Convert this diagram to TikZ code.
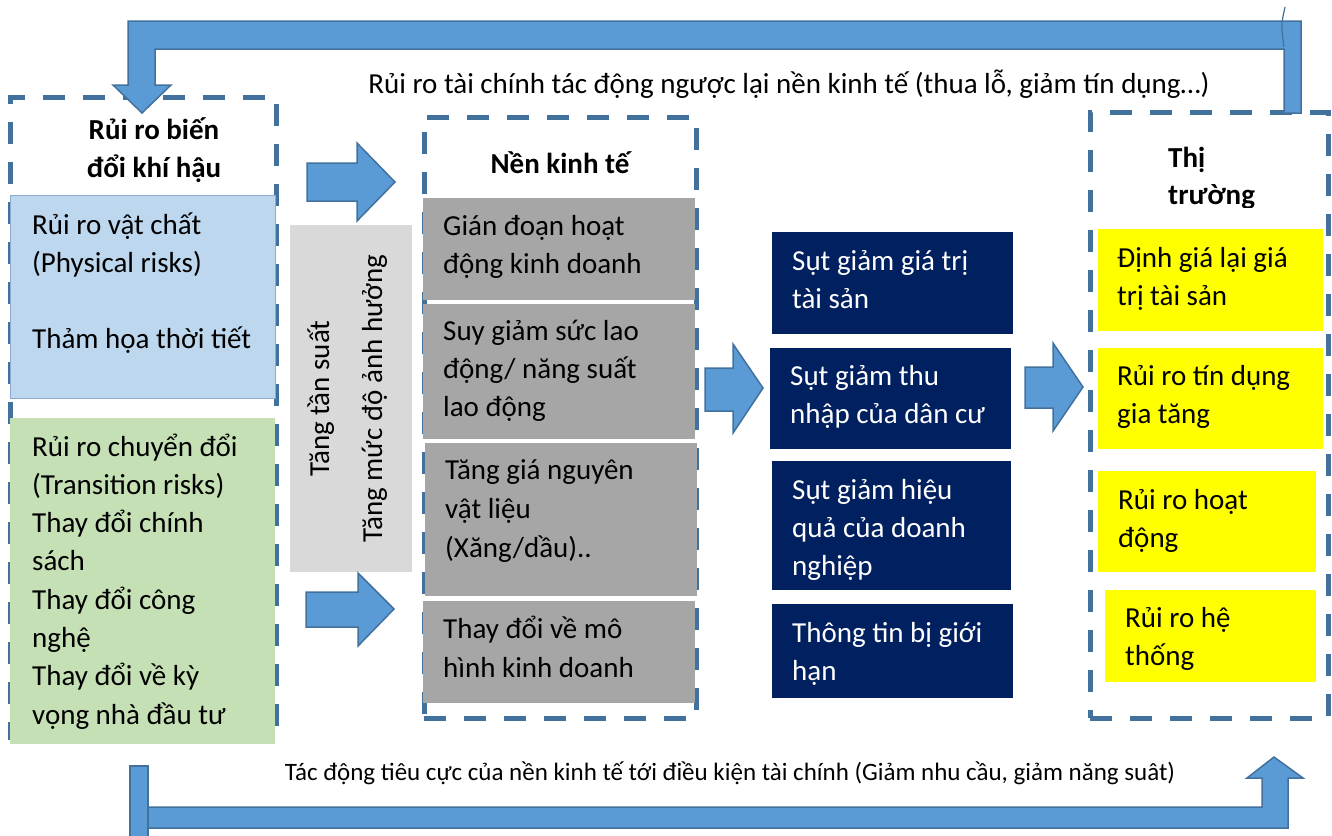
\documentclass[tikz,border=0pt]{standalone}
\usepackage{fontspec}
\setmainfont{Carlito}
\usetikzlibrary{fit}
\definecolor{arrowblue}{RGB}{91,155,213}
\definecolor{frameblue}{RGB}{65,113,156}
\definecolor{physblue}{RGB}{189,215,238}
\definecolor{physedge}{RGB}{143,170,210}
\definecolor{transgreen}{RGB}{197,224,180}
\definecolor{lightgrey}{RGB}{217,217,217}
\definecolor{midgrey}{RGB}{166,166,166}
\definecolor{navy}{RGB}{0,32,96}
\definecolor{marketyellow}{RGB}{255,255,0}
% multi-line text whose reference point is the first baseline
\newcommand\leftlines[1]{\begin{tabular}[t]{@{}l@{}}#1\end{tabular}}
\newcommand\centrelines[1]{\begin{tabular}[t]{@{}c@{}}#1\end{tabular}}
\begin{document}
\begin{tikzpicture}[x=1pt,y=-1pt,
  frame/.style={draw=frameblue, line width=5pt, dash pattern=on 22pt off 18pt, inner sep=0pt},
  panel/.style={inner sep=0pt, draw=none},
  blockarrow/.style={fill=arrowblue, draw=frameblue, line width=1.5pt, line join=miter},
  txt/.style={anchor=base west, inner sep=0pt, font=\fontsize{29}{38}\selectfont},
  title/.style={txt, font=\fontsize{29}{37.5}\selectfont\bfseries},
  wtxt/.style={txt, text=white},
  note/.style={anchor=base, inner sep=0pt}
]
\useasboundingbox (0,0) rectangle (1332,835);

% dashed group frames
\node[frame, fit={(10,97) (276,740)}] (climate) {};
\node[frame, fit={(424,117) (696,718)}] (economy) {};
\node[frame, fit={(1090,112) (1328,718)}] (market) {};

% climate risk panels
\node[panel, fill=physblue, draw=physedge, line width=1pt, fit={(10,195) (275,398)}] (physical) {};
\node[panel, fill=transgreen, fit={(10,418) (275,744)}] (transition) {};
\node[title, anchor=base] (climatetitle) at (154,139.5) {\centrelines{Rủi ro biến\\đổi khí hậu}};
\node[txt] (physicaltxt) at (32,234) {\leftlines{Rủi ro vật chất\\(Physical risks)}};
\node[txt] (weathertxt) at (32,348) {Thảm họa thời tiết};
\node[txt, font=\fontsize{29}{38.3}\selectfont] (transitiontxt) at (32,456)
  {\leftlines{Rủi ro chuyển đổi\\(Transition risks)\\Thay đổi chính\\sách\\Thay đổi công\\nghệ\\Thay đổi về kỳ\\vọng nhà đầu tư}};

% intensity band
\node[panel, fill=lightgrey, fit={(290,225) (412,572)}] (band) {};
\node[note, rotate=90, font=\fontsize{29}{38}\selectfont] (freq) at (329,398.5) {Tăng tần suất};
\node[note, rotate=90, font=\fontsize{29}{38}\selectfont] (impact) at (382,398.5) {Tăng mức độ ảnh hưởng};

% economy panels
\node[panel, fill=midgrey, fit={(423,198) (695,300)}] (e1) {};
\node[panel, fill=midgrey, fit={(423,304) (695,439)}] (e2) {};
\node[panel, fill=midgrey, fit={(425,443) (697,596)}] (e3) {};
\node[panel, fill=midgrey, fit={(423,601) (695,703)}] (e4) {};
\node[title, anchor=base] (economytitle) at (560,173) {Nền kinh tế};
\node[txt] (e1txt) at (443,235) {\leftlines{Gián đoạn hoạt\\động kinh doanh}};
\node[txt] (e2txt) at (443,340) {\leftlines{Suy giảm sức lao\\động/ năng suất\\lao động}};
\node[txt, font=\fontsize{29}{39}\selectfont] (e3txt) at (445,479) {\leftlines{Tăng giá nguyên\\vật liệu\\(Xăng/dầu)..}};
\node[txt, font=\fontsize{29}{39}\selectfont] (e4txt) at (443,638) {\leftlines{Thay đổi về mô\\hình kinh doanh}};

% consequences
\node[panel, fill=navy, fit={(772,232) (1013,334)}] (c1) {};
\node[panel, fill=navy, fit={(770,348) (1011,449)}] (c2) {};
\node[panel, fill=navy, fit={(772,461) (1011,590)}] (c3) {};
\node[panel, fill=navy, fit={(772,604) (1013,698)}] (c4) {};
\node[wtxt] (c1txt) at (792,270) {\leftlines{Sụt giảm giá trị\\tài sản}};
\node[wtxt] (c2txt) at (790,385) {\leftlines{Sụt giảm thu\\nhập của dân cư}};
\node[wtxt] (c3txt) at (792,499) {\leftlines{Sụt giảm hiệu\\quả của doanh\\nghiệp}};
\node[wtxt] (c4txt) at (792,642) {\leftlines{Thông tin bị giới\\hạn}};

% market panels
\node[panel, fill=marketyellow, fit={(1098,229) (1323,331)}] (m1) {};
\node[panel, fill=marketyellow, fit={(1098,348) (1323,449)}] (m2) {};
\node[panel, fill=marketyellow, fit={(1098,471) (1316,572)}] (m3) {};
\node[panel, fill=marketyellow, fit={(1105,590) (1316,682)}] (m4) {};
\begin{scope}
  \clip (1150,120) rectangle (1300,207);
  \node[title] (markettitle) at (1168,167) {\leftlines{Thị\\trường}};
\end{scope}
\node[txt] (m1txt) at (1117,267) {\leftlines{Định giá lại giá\\trị tài sản}};
\node[txt] (m2txt) at (1117,385) {\leftlines{Rủi ro tín dụng\\gia tăng}};
\node[txt] (m3txt) at (1118,509) {\leftlines{Rủi ro hoạt\\động}};
\node[txt] (m4txt) at (1125,627) {\leftlines{Rủi ro hệ\\thống}};

% block arrows between the groups
\draw[blockarrow] (307,163) -- (357,163) -- (357,143) -- (395,182) -- (357,221) -- (357,201) -- (307,201) -- cycle;
\draw[blockarrow] (306,592) -- (358,592) -- (358,573) -- (394,609) -- (358,646) -- (358,627) -- (306,627) -- cycle;
\draw[blockarrow] (705,368) -- (733,368) -- (733,344) -- (763,388) -- (733,433) -- (733,411) -- (705,411) -- cycle;
\draw[blockarrow] (1025,367) -- (1053,367) -- (1053,343) -- (1083,387) -- (1053,431) -- (1053,408) -- (1025,408) -- cycle;

% feedback from the market back to climate risk
\draw[blockarrow] (1301,113) -- (1301,21) -- (128,21) -- (128,85) -- (113,85) -- (142,113) -- (171,85)
  -- (155,85) -- (155,49) -- (1284,49) -- (1284,113) -- cycle;
\draw[frameblue, line width=1.2pt] (1285,7) .. controls (1281,25) .. (1284,47);
\node[note, font=\fontsize{29}{34}\selectfont] (feedbacktxt) at (789,93)
  {Rủi ro tài chính tác động ngược lại nền kinh tế (thua lỗ, giảm tín dụng…)};

% economy feeding the financial conditions
\draw[blockarrow] (148,807) -- (1262,807) -- (1262,778) -- (1247,778) -- (1274,757) -- (1303,778)
  -- (1288,778) -- (1288,828) -- (148,828) -- cycle;
\draw[blockarrow] (130,766) rectangle (148,840);
\node[note, font=\fontsize{25}{30}\selectfont] (demandtxt) at (730,780)
  {Tác động tiêu cực của nền kinh tế tới điều kiện tài chính (Giảm nhu cầu, giảm năng suât)};
\end{tikzpicture}
\end{document}
